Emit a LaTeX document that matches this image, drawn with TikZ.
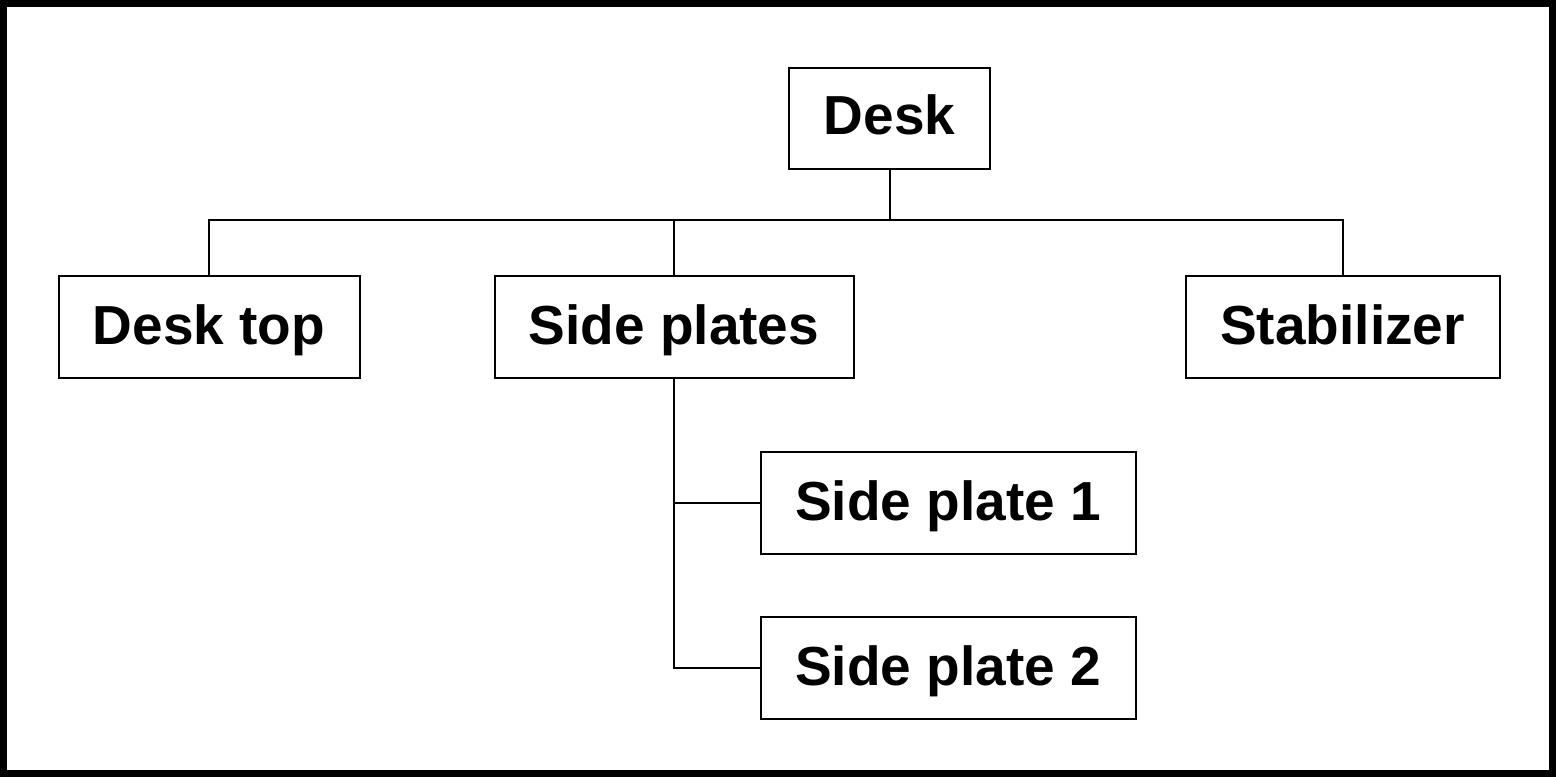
\documentclass[tikz,border=0pt]{standalone}
\usepackage{fontspec}
\setmainfont{Liberation Sans}
\begin{document}
\begin{tikzpicture}[x=1pt,y=-1pt,
  box/.style={draw,line width=2pt,inner sep=0pt,minimum height=102pt,text height=39.5pt,text depth=3pt,font=\fontsize{55}{60}\selectfont\bfseries},
  link/.style={line width=2pt}]
\useasboundingbox (0,0) rectangle (1556,777);
\draw[line width=7pt] (3.5,3.5) rectangle (1552.5,773.5);
\node[box,minimum width=201pt,minimum height=101pt,text depth=6pt] (desk) at (889.5,118) {Desk};
\node[box,minimum width=301pt] (desktop) at (209,326.5) {Desk top};
\node[box,minimum width=359pt] (sideplates) at (674,326.5) {Side plates};
\node[box,minimum width=314pt] (stab) at (1342.5,326.5) {Stabilizer};
\node[box,minimum width=375pt] (sp1) at (948,502.5) {Side plate 1};
\node[box,minimum width=375pt] (sp2) at (948,667.5) {Side plate 2};
\coordinate (j) at (889.5,220);
\draw[link] (desk.south) -- (j);
\draw[link] (desktop.north) |- (j) -| (stab.north);
\draw[link] (sideplates.north) -- (sideplates.north |- j);
\draw[link] (sideplates.south) |- (sp2.west);
\draw[link] (sp1.west) -- (sp1.west -| sideplates.south);
\end{tikzpicture}
\end{document}
